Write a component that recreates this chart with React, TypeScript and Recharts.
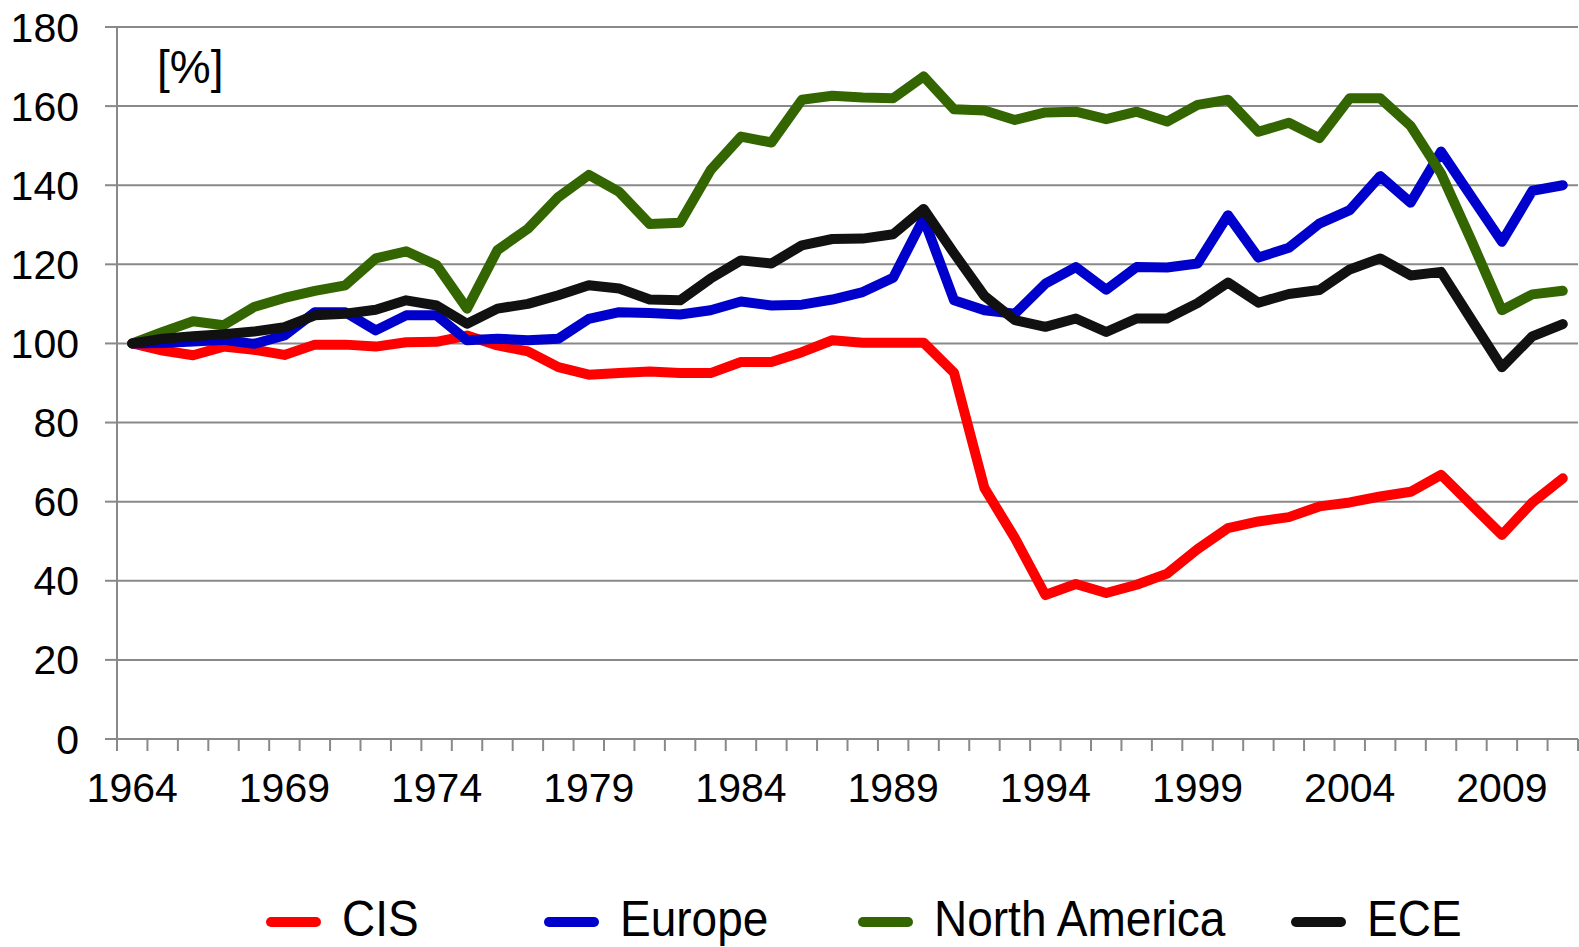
import { LineChart, Line, XAxis, YAxis, CartesianGrid } from 'recharts'

const years = [
	1964, 1965, 1966, 1967, 1968, 1969, 1970, 1971, 1972, 1973, 1974, 1975, 1976, 1977, 1978, 1979,
	1980, 1981, 1982, 1983, 1984, 1985, 1986, 1987, 1988, 1989, 1990, 1991, 1992, 1993, 1994, 1995,
	1996, 1997, 1998, 1999, 2000, 2001, 2002, 2003, 2004, 2005, 2006, 2007, 2008, 2009, 2010, 2011,
]

const cis = [
	100, 98.2, 97, 99.2, 98.4, 97.1, 99.7, 99.7, 99.2, 100.3, 100.4, 102, 99.5, 98, 94, 92.1,
	92.5, 92.9, 92.5, 92.5, 95.3, 95.3, 97.8, 100.8, 100.2, 100.2, 100.2, 92.6, 63.4, 50.8, 36.4, 39.2,
	36.9, 39, 41.8, 48, 53.3, 55, 56.1, 58.8, 59.8, 61.3, 62.5, 66.8, 59.2, 51.6, 59.8, 65.9,
]

const europe = [
	100, 100.1, 100.5, 100.9, 99.9, 102, 107.9, 107.9, 103.3, 107.1, 107.1, 100.8, 101.2, 100.8, 101.2, 106.2,
	107.9, 107.7, 107.3, 108.4, 110.6, 109.6, 109.8, 111.1, 113, 116.6, 131.6, 110.9, 108.4, 107.5, 115.1, 119.3,
	113.6, 119.3, 119.2, 120.2, 132.4, 121.7, 124.2, 130.3, 133.7, 142.3, 135.6, 148.5, 137.1, 125.7, 138.6, 140,
]

const northAmerica = [
	100, 102.9, 105.6, 104.6, 109.2, 111.5, 113.3, 114.7, 121.5, 123.3, 119.8, 108.8, 123.6, 129, 137, 142.6,
	138.3, 130.2, 130.5, 143.8, 152.3, 150.8, 161.6, 162.6, 162.2, 162, 167.5, 159.2, 158.9, 156.5, 158.4, 158.6,
	156.7, 158.6, 156.1, 160.3, 161.6, 153.5, 155.8, 151.9, 162, 162, 155, 143, 126, 108.4, 112.4, 113.3,
]

const ece = [
	100, 101.2, 101.8, 102.3, 103, 104.1, 107.1, 107.5, 108.5, 110.9, 109.6, 105, 108.8, 110, 112.2, 114.7,
	113.9, 111.1, 110.9, 116.4, 121, 120.2, 124.8, 126.4, 126.5, 127.6, 134, 122.8, 112, 105.9, 104.2, 106.3,
	102.9, 106.3, 106.3, 110.2, 115.4, 110.3, 112.5, 113.5, 118.7, 121.5, 117.2, 118.1, 106, 94, 101.8, 104.9,
]

const yTicks = [0, 20, 40, 60, 80, 100, 120, 140, 160, 180]
const yearLabels = [1964, 1969, 1974, 1979, 1984, 1989, 1994, 1999, 2004, 2009]

const series = [
	{ key: 'cis', name: 'CIS', color: '#ff0000', values: cis, width: 278 },
	{ key: 'europe', name: 'Europe', color: '#0000cc', values: europe, width: 314 },
	{ key: 'northAmerica', name: 'North America', color: '#336600', values: northAmerica, width: 433 },
	{ key: 'ece', name: 'ECE', color: '#111111', values: ece, width: 200 },
]

const data = years.map((year, i) => {
	const row: Record<string, number> = { year }
	series.forEach((s) => (row[s.key] = s.values[i]))
	return row
})

// tick marks sit between the years, labels under every fifth year
const boundaries = years.map((y) => y - 0.5).concat(years[years.length - 1] + 0.5)
const xTicks = [...boundaries, ...yearLabels].sort((a, b) => a - b)

const gray = '#898989'
const font = '"Liberation Sans", Arial, sans-serif'

function YearTick({ x, y, payload }: any) {
	if (yearLabels.includes(payload.value)) {
		return (
			<text x={x} y={y + 34} dy="0.71em" textAnchor="middle" fontSize={41} fill="#000" fontFamily={font}>
				{payload.value}
			</text>
		)
	}
	return <line x1={x} x2={x} y1={y} y2={y + 12} stroke={gray} strokeWidth={2} />
}

export default function App() {
	return (
		<div style={{ position: 'absolute', left: 0, top: 0, width: 1579, height: 947, background: '#fff' }}>
			<LineChart
				width={1579}
				height={947}
				data={data}
				margin={{ top: 27, right: 1, bottom: 108, left: 0 }}
				style={{ fontFamily: font }}
			>
				<CartesianGrid vertical={false} stroke={gray} strokeWidth={2} />
				<XAxis
					dataKey="year"
					type="number"
					domain={[1963.5, 2011.5]}
					ticks={xTicks}
					interval={0}
					tickSize={0}
					tickMargin={0}
					tickLine={false}
					tick={<YearTick />}
					axisLine={{ stroke: gray, strokeWidth: 2 }}
					height={100}
				/>
				<YAxis
					domain={[0, 180]}
					ticks={yTicks}
					interval={0}
					width={117}
					tickSize={12}
					tickMargin={26}
					tick={{ fill: '#000', fontSize: 41 }}
					tickLine={{ stroke: gray, strokeWidth: 2 }}
					axisLine={{ stroke: gray, strokeWidth: 2 }}
				/>
				{series.map((s) => (
					<Line
						key={s.key}
						dataKey={s.key}
						name={s.name}
						type="linear"
						stroke={s.color}
						strokeWidth={10}
						strokeLinecap="round"
						strokeLinejoin="round"
						dot={false}
						isAnimationActive={false}
					/>
				))}
			</LineChart>
			<div
				style={{
					position: 'absolute',
					left: 157,
					top: 44,
					fontSize: 46,
					lineHeight: 1,
					fontFamily: font,
					color: '#000',
				}}
			>
				[%]
			</div>
			<div style={{ position: 'absolute', left: 266, top: 891, height: 56, display: 'flex' }}>
				{series.map((s) => (
					<div key={s.key} style={{ width: s.width, height: 56, display: 'flex', alignItems: 'center' }}>
						<span
							style={{
								display: 'inline-block',
								flex: 'none',
								width: 55,
								height: 10,
								borderRadius: 5,
								background: s.color,
								marginRight: 21,
								marginTop: 6,
							}}
						/>
						<span
							style={{
								display: 'inline-block',
								fontSize: 50,
								lineHeight: 1.1,
								fontFamily: font,
								color: '#000',
								whiteSpace: 'nowrap',
								transform: 'scaleX(0.92)',
								transformOrigin: 'left center',
							}}
						>
							{s.name}
						</span>
					</div>
				))}
			</div>
		</div>
	)
}
